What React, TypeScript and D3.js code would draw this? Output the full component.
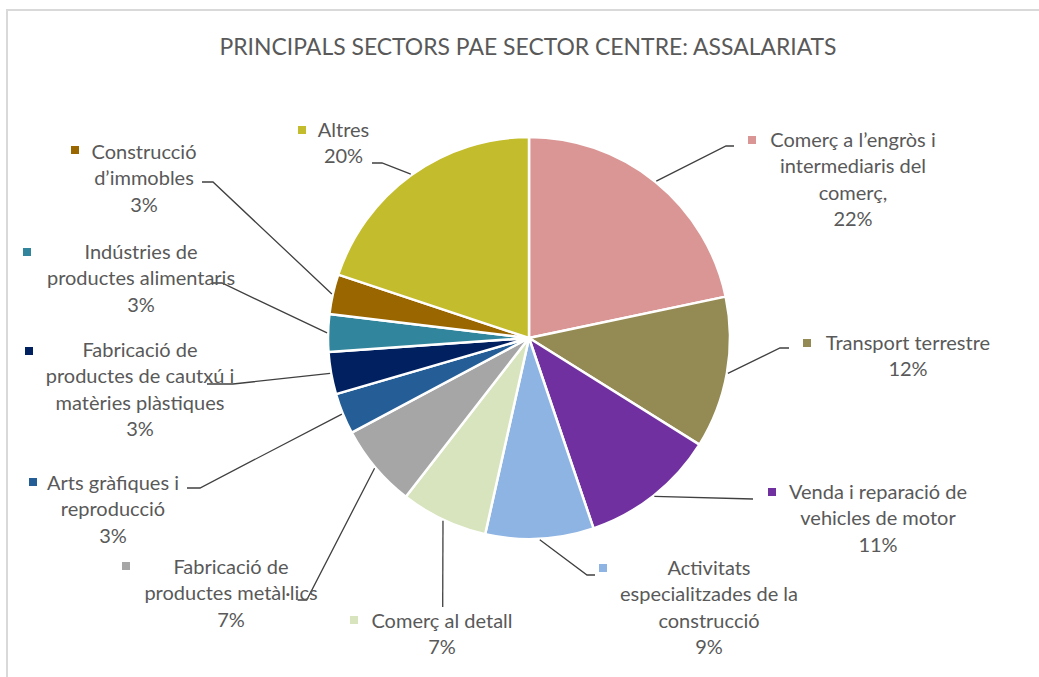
import React from "react";
import * as d3 from "d3";

const title = "PRINCIPALS SECTORS PAE SECTOR CENTRE: ASSALARIATS";

const categories = [
  "Comerç a l’engròs i intermediaris del comerç,",
  "Transport terrestre",
  "Venda i reparació de vehicles de motor",
  "Activitats especialitzades de la construcció",
  "Comerç al detall",
  "Fabricació de productes metàl·lics",
  "Arts gràfiques i reproducció",
  "Fabricació de productes de cautxú i matèries plàstiques",
  "Indústries de productes alimentaris",
  "Construcció d’immobles",
  "Altres",
];

const labelLines = [
  ["Comerç a l’engròs i", "intermediaris del", "comerç,"],
  ["Transport terrestre"],
  ["Venda i reparació de", "vehicles de motor"],
  ["Activitats", "especialitzades de la", "construcció"],
  ["Comerç al detall"],
  ["Fabricació de", "productes metàl·lics"],
  ["Arts gràfiques i", "reproducció"],
  ["Fabricació de", "productes de cautxú i", "matèries plàstiques"],
  ["Indústries de", "productes alimentaris"],
  ["Construcció", "d’immobles"],
  ["Altres"],
];

const values = [21.7, 12.2, 10.9, 8.7, 7.0, 6.7, 3.3, 3.4, 3.0, 3.2, 19.9];

const colors = [
  "#D99694",
  "#948A54",
  "#7030A0",
  "#8EB4E3",
  "#D7E4BD",
  "#A6A6A6",
  "#255E96",
  "#002060",
  "#31859C",
  "#996600",
  "#C3BC2C",
];

// label layout: marker position, text center, first line center, leader elbow points
const labelLayout = [
  { mx: 752, my: 140, cx: 853, cy: 140, leader: [[726, 146], [734, 146]] },
  { mx: 807, my: 343, cx: 908, cy: 343, leader: [[780, 348], [789, 348]] },
  { mx: 772, my: 492, cx: 878, cy: 492, leader: [[753, 499]] },
  { mx: 603, my: 568, cx: 709, cy: 568, leader: [[587, 575], [595, 575]] },
  { mx: 354, my: 620, cx: 442, cy: 621, leader: [[442.7, 607]] },
  { mx: 126, my: 566, cx: 231, cy: 567, leader: [[306.7, 600], [297.7, 600]] },
  { mx: 33, my: 482, cx: 113, cy: 483, leader: [[200, 488], [187, 488]] },
  { mx: 29, my: 351, cx: 140, cy: 350, leader: [[233, 384], [207, 384]] },
  { mx: 27, my: 252, cx: 141, cy: 252, leader: [[222, 283], [212, 283]] },
  { mx: 75, my: 150, cx: 144, cy: 152, leader: [[213, 182], [202, 182]] },
  { mx: 302, my: 130, cx: 343.5, cy: 129.5, leader: [[382, 163], [372, 163]] },
];

const W = 1039;
const H = 677;
const CX = 529;
const CY = 338;
const R = 201;
const LINE_H = 26.3;
const FONT = "Lato, 'Open Sans', sans-serif";
const TEXT_COLOR = "#595959";

export default function App() {
  const pie = d3
    .pie<number>()
    .sort(null)
    .value((d) => d);
  const arcs = pie(values);
  const arcGen = d3.arc<d3.PieArcDatum<number>>().innerRadius(0).outerRadius(R);
  const line = d3.line();

  return (
    <svg
      width={W}
      height={H}
      style={{ position: "absolute", left: 0, top: 0, background: "#fff" }}
    >
      <rect x={0} y={0} width={W} height={H} fill="#fff" />
      <rect x={7} y={10} width={W + 50} height={H + 50} fill="none" stroke="#d9d9d9" strokeWidth={2} />
      <text
        x={528}
        y={47}
        textAnchor="middle"
        dy="0.35em"
        fontFamily={FONT}
        fontWeight={400}
        fontSize={23}
        fill={TEXT_COLOR}
        textLength={617}
        lengthAdjust="spacingAndGlyphs"
      >
        {title}
      </text>
      <g transform={`translate(${CX},${CY})`}>
        {arcs.map((a, i) => (
          <path key={i} d={arcGen(a) || ""} fill={colors[i]} stroke="#fff" strokeWidth={2.5} strokeLinejoin="round" />
        ))}
      </g>
      {arcs.map((a, i) => {
        const mid = (a.startAngle + a.endAngle) / 2;
        const sx = CX + Math.sin(mid) * (R + 1);
        const sy = CY - Math.cos(mid) * (R + 1);
        const pts: [number, number][] = [[sx, sy], ...(labelLayout[i].leader as [number, number][])];
        return (
          <path key={"l" + i} d={line(pts) || ""} fill="none" stroke="#404040" strokeWidth={1.3} />
        );
      })}
      {arcs.map((a, i) => {
        const L = labelLayout[i];
        const lines = [...labelLines[i], `${Math.round(values[i])}%`];
        return (
          <g key={"t" + i}>
            <rect x={L.mx - 4} y={L.my - 4} width={8} height={8} fill={colors[i]} />
            {lines.map((t, j) => (
              <text
                key={j}
                x={L.cx}
                y={L.cy + j * LINE_H}
                dy="0.35em"
                textAnchor="middle"
                fontFamily={FONT}
                fontSize={20}
                fill={TEXT_COLOR}
              >
                {t}
              </text>
            ))}
          </g>
        );
      })}
    </svg>
  );
}
